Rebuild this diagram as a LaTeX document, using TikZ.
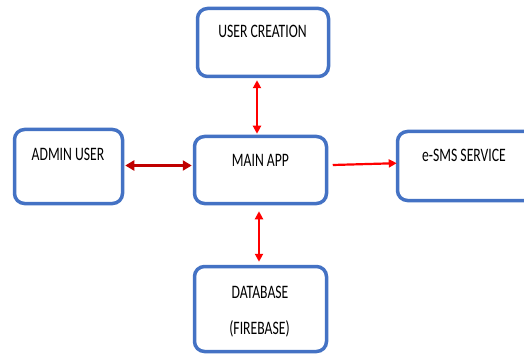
\documentclass[tikz,border=0pt]{standalone}
\usepackage{fontspec}
\setmainfont[FakeStretch=0.72]{Carlito}
\usetikzlibrary{arrows.meta}
\definecolor{boxblue}{HTML}{4472C4}
\definecolor{arrred}{HTML}{FF0000}
\definecolor{darkred}{HTML}{C00000}
\begin{document}
\begin{tikzpicture}[x=1pt,y=-1pt,
  box/.style={draw=boxblue,line width=3.5pt,rounded corners=10pt,fill=white,inner sep=0pt},
  lbl/.style={inner sep=0pt,font=\fontsize{19}{21}\selectfont,text=black},
  conn/.style={line width=2pt,draw=arrred,{Triangle[length=8pt,width=8pt]}-{Triangle[length=8pt,width=8pt]}},
  conn1/.style={line width=2.2pt,draw=arrred,-{Triangle[length=8pt,width=8pt]}}
]
\useasboundingbox (0,0) rectangle (524,358);
\clip (0,0) rectangle (524,358);
\fill[white] (0,0) rectangle (524,358);
\node[box,minimum width=131pt,minimum height=68pt] (uc) at (263,42.5) {};
\node[box,minimum width=108pt,minimum height=74pt] (admin) at (68.5,166.5) {};
\node[box,minimum width=132pt,minimum height=67pt] (main) at (260.5,170) {};
\node[box,minimum width=141pt,minimum height=69pt] (sms) at (468,166) {};
\node[box,minimum width=132pt,minimum height=85pt] (db) at (260.5,309) {};
\node[lbl] (tuc) at (262.5,31) {USER CREATION};
\node[lbl] (tadmin) at (68,154.5) {ADMIN USER};
\node[lbl] (tmain) at (260.5,160) {MAIN APP};
\node[lbl] (tsms) at (464,155) {e-SMS SERVICE};
\node[lbl] (tdb) at (260,292.5) {DATABASE};
\node[lbl] (tfb) at (259.5,329) {(FIREBASE)};
\coordinate (xa) at (257,0);
\coordinate (xb) at (259,0);
\coordinate (ya) at (0,165.5);
\coordinate (yb) at (0,165);
\coordinate (yc) at (0,163.2);
\draw[conn] (uc.south -| xa) ++(0,2) -- ([yshift=1pt]main.north -| xa);
\draw[conn,draw=darkred,line width=3pt,{Triangle[length=9pt,width=10pt]}-{Triangle[length=9pt,width=10pt]}] ([xshift=1pt]admin.east |- ya) -- ([xshift=-1pt]main.west |- ya);
\draw[conn1] ([xshift=4.5pt]main.east |- yb) -- ([xshift=1pt]sms.west |- yc);
\draw[conn] ([yshift=-6pt]main.south -| xb) -- ([yshift=3pt]db.north -| xb);
\end{tikzpicture}
\end{document}
